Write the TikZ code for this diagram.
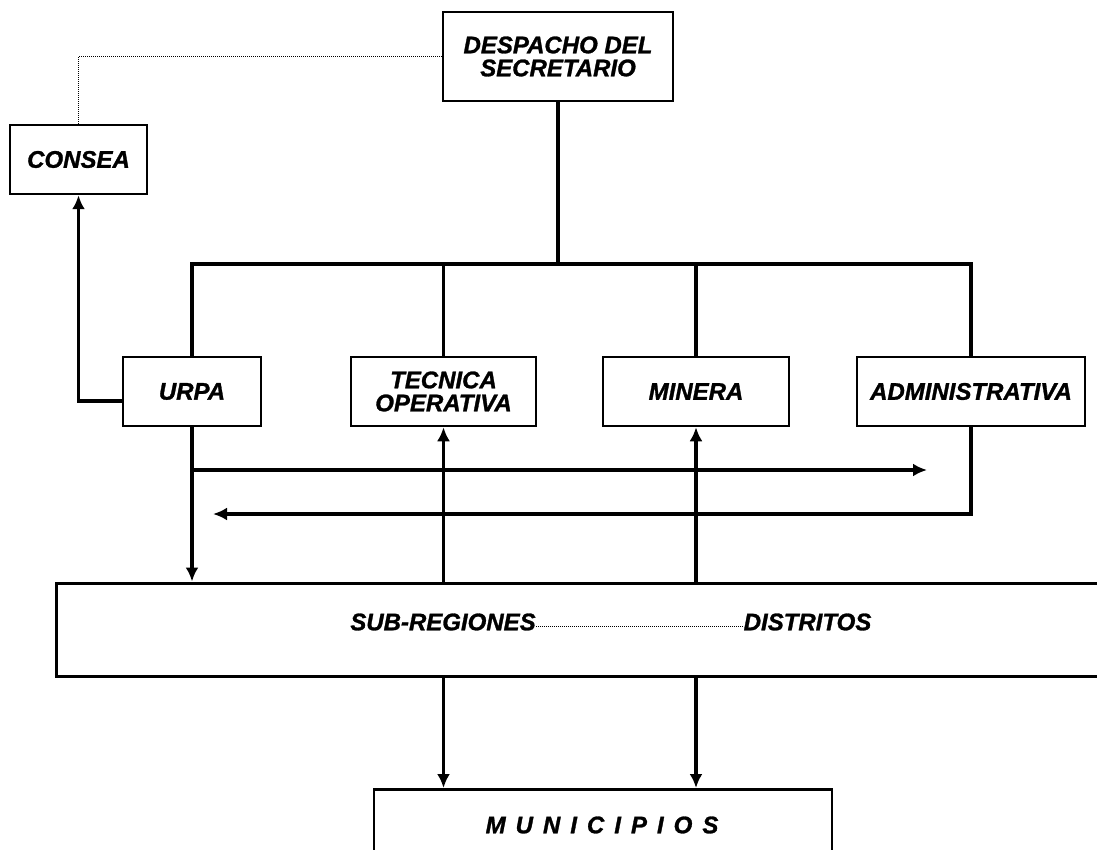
\documentclass[tikz,border=0pt]{standalone}
\usepackage{fontspec}
\setmainfont{Liberation Sans}
\newfontfamily\heavyfont{Liberation Sans}[BoldItalicFeatures={FakeBold=1.2}]
\usepackage{tikz}
\usetikzlibrary{arrows.meta}
\tikzset{box/.style = {draw, line width = 2.5pt, rectangle, inner sep = 0, align = center, font = \heavyfont\bfseries\itshape\fontsize{24}{23}\selectfont}}
\tikzset{txt/.style = {inner sep = 0, font = \heavyfont\bfseries\itshape\fontsize{24}{23}\selectfont}}
\tikzset{wire/.style = {line width = 3.5pt, line cap = rect}}
\tikzset{bus/.style = {line width = 4.5pt, line cap = rect}}
\tikzset{tip/.style = {-{Latex[length=14pt, width=13pt]}, line cap = butt}}

\begin{document}
\begin{tikzpicture}[x=1pt, y=-1pt]
    \useasboundingbox (0, 0) rectangle (1097, 850);
    \clip (0, 0) rectangle (1097, 850);

    \node [box, minimum width = 230, minimum height = 89] (despacho) at (558, 56.5) {DESPACHO DEL\\SECRETARIO};
    \node [box, minimum width = 137, minimum height = 69] (consea) at (78.5, 159.5) {CONSEA};

    \node [box, minimum width = 138, minimum height = 69] (urpa) at (192, 391.5) {URPA};
    \node [box, minimum width = 185, minimum height = 69] (tecnica) at (443.5, 391.5) {TECNICA\\OPERATIVA};
    \node [box, minimum width = 186, minimum height = 69] (minera) at (696, 391.5) {MINERA};
    \node [box, minimum width = 228, minimum height = 69] (admin) at (971, 391.5) {ADMINISTRATIVA};

    % open on the right, runs past the page
    \node [box, line width = 3pt, minimum width = 1084, minimum height = 93] (subreg) at (598, 629.5) {};
    \node [txt] (subtxt) at (443, 622) {SUB-REGIONES};
    \node [txt] (distxt) at (807.5, 622) {DISTRITOS};
    \draw [densely dotted, line width = 1pt] ([yshift=4pt]subtxt.base east) -- ([yshift=4pt]distxt.base west);

    % cut off at the bottom
    \node [box, minimum width = 458, minimum height = 130, anchor = north] (municipios) at (603, 788) {};
    \node [txt] (muntxt) at (602, 825) {\spaceskip=10pt M U N I C I P I O S};

    \draw [densely dotted, line width = 1pt] (despacho.west) -| (consea.north);

    \coordinate (busL) at (192, 264);
    \coordinate (busR) at (971, 264);
    \draw [bus] (busL) -- (busR);
    \draw [wire] (despacho.south) -- (despacho.south |- busL);
    \foreach \n in {urpa, tecnica, minera, admin}
      \draw [wire] (\n.north) -- (\n.north |- busL);

    \draw [wire, tip] ([yshift=-9.5pt]urpa.west) -| (consea.south);

    \coordinate (toadmin) at (927, 470);
    \coordinate (tourpa) at (213, 514);
    \draw [wire, tip] (urpa.south |- toadmin) -- (toadmin);
    \draw [wire, tip] (admin.south) |- (tourpa);

    \draw [wire, tip] (urpa.south) -- (urpa.south |- subreg.north);
    \foreach \n in {tecnica, minera} {
      \draw [wire, tip] (\n.south |- subreg.north) -- (\n.south);
      \draw [wire, tip] (\n.south |- subreg.south) -- (\n.south |- municipios.north);
    }

  \end{tikzpicture}
\end{document}
